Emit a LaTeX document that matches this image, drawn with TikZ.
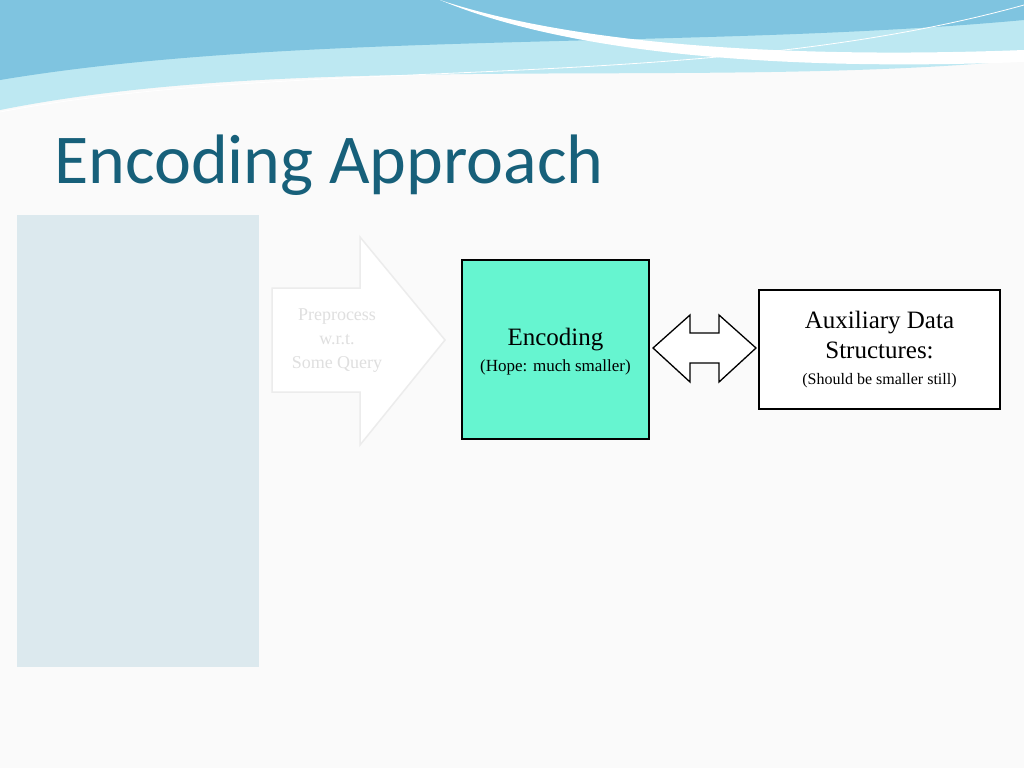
\documentclass[tikz,border=0pt]{standalone}
\usepackage{fontspec}
\setmainfont{Liberation Serif}
\newfontfamily\titlefont{Carlito}
\usetikzlibrary{positioning}
\definecolor{titleblue}{HTML}{17607A}
\definecolor{encfill}{HTML}{66F5D0}
\definecolor{wavedark}{HTML}{7FC4E0}
\definecolor{wavelight}{HTML}{BDE8F2}
\definecolor{paneblue}{HTML}{DCE9EE}
\begin{document}
\begin{tikzpicture}[x=1pt,y=-1pt,
  box/.style={draw=black, line width=1.3pt, align=center, inner sep=0pt}]
\useasboundingbox (0,0) rectangle (1024,768);
\fill[white!96!gray] (0,0) rectangle (1024,768);
% header waves
\fill[wavelight] (0,0) -- (1024,0) -- (1024,60) .. controls (700,90) and (300,50) .. (0,110) -- cycle;
\fill[wavedark] (0,0) -- (1024,0) -- (1024,20) .. controls (700,50) and (300,30) .. (0,80) -- cycle;
\fill[white] (440,0) .. controls (560,40) and (760,60) .. (1024,50) -- (1024,62) .. controls (760,72) and (560,50) .. cycle;
\draw[white, line width=0.8pt] (0,112) .. controls (300,55) and (700,95) .. (1024,5);
% title
\node[anchor=west, inner sep=0pt, text=titleblue, font=\titlefont\fontsize{70}{76}\selectfont] (title) at (54,165) {Encoding Approach};
% faded input panel and arrow
\fill[paneblue] (17,215) rectangle (259,667);
\draw[gray!15, fill=white, line width=1.5pt] (272,288) -- (360,288) -- (360,237) -- (445,340) -- (360,445) -- (360,392) -- (272,392) -- cycle;
\node[text=gray!25, align=center, font=\fontsize{18}{24}\selectfont] (pre) at (337,341) {Preprocess\\w.r.t.\\Some Query};
% boxes
\node[box, fill=encfill, minimum width=187pt, minimum height=179pt] (enc) at (555.5,349.5) {};
\node[font=\fontsize{25}{28}\selectfont] (enctitle) at (555.5,340) {Encoding};
\node[font=\fontsize{17}{20}\selectfont, below=1pt of enctitle] (encsub) {(Hope: much smaller)};
\node[box, fill=white, minimum width=241pt, minimum height=119pt, align=center, font=\fontsize{25}{30}\selectfont] (aux) at (879.5,349.5) {Auxiliary Data\\Structures:\\[-4pt]{\fontsize{16}{18}\selectfont (Should be smaller still)}};
% double arrow
\draw[black, fill=white, line width=1.3pt] (653,348) -- (690,315) -- (690,333) -- (719,333) -- (719,315) -- (756,348) -- (719,382) -- (719,363) -- (690,363) -- (690,382) -- cycle;
\end{tikzpicture}
\end{document}
